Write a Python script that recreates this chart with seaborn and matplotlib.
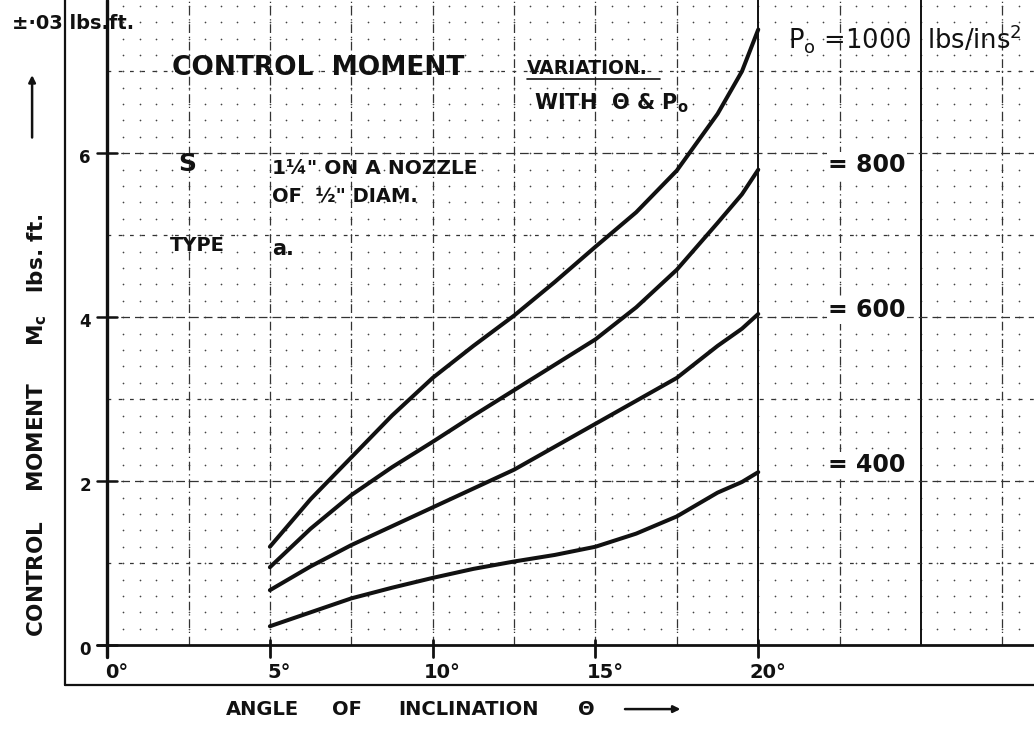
import numpy as np
import pandas as pd
import matplotlib
matplotlib.use("Agg")
import matplotlib.pyplot as plt
import seaborn as sns

# curves: angle (deg) vs control moment (lbs.ft)
angle = [5, 6.25, 7.5, 8.75, 10, 11.25, 12.5, 13.75, 15, 16.25, 17.5, 18.75, 19.5, 20]
mc_1000 = [1.20, 1.78, 2.29, 2.80, 3.26, 3.65, 4.02, 4.43, 4.86, 5.28, 5.79, 6.48, 7.00, 7.51]
mc_800 = [0.95, 1.42, 1.83, 2.17, 2.48, 2.80, 3.11, 3.42, 3.73, 4.12, 4.58, 5.15, 5.50, 5.80]
mc_600 = [0.67, 0.96, 1.22, 1.45, 1.68, 1.91, 2.14, 2.42, 2.70, 2.98, 3.26, 3.65, 3.86, 4.04]
mc_400 = [0.23, 0.40, 0.57, 0.70, 0.82, 0.93, 1.02, 1.10, 1.20, 1.36, 1.57, 1.86, 1.99, 2.11]

pressures = ["1000", "800", "600", "400"]
x_ticks = [0, 5, 10, 15, 20]
y_ticks = [0, 2, 4, 6]

df = pd.concat([
    pd.DataFrame({"angle": angle, "mc": vals, "po": p})
    for p, vals in zip(pressures, [mc_1000, mc_800, mc_600, mc_400])
])

sns.set_style("white")
plt.rcParams["font.family"] = ["DejaVu Sans"]

fig = plt.figure(figsize=(10.34, 7.32), dpi=100)
ax = fig.add_axes([0, 0, 1, 1])
XL, YL = (-3.29, 28.47), (-1.06, 7.87)
ax.set_xlim(*XL)
ax.set_ylim(*YL)

ink = "#111111"

def fx(v):
    return (v - XL[0]) / (XL[1] - XL[0])

def fy(v):
    return (v - YL[0]) / (YL[1] - YL[0])

# dotted minor lattice
gx, gy = np.meshgrid(np.arange(0.5, 28.5, 0.5), np.arange(0.2, 7.9, 0.2))
ax.scatter(gx.ravel(), gy.ravel(), s=1.5, color="#444444", linewidths=0, zorder=1)

# major grid
for gxl in np.arange(2.5, 28.5, 2.5):
    if gxl in (20, 25):
        ax.axvline(gxl, ymin=fy(0), color=ink, lw=1.4, zorder=2)
    else:
        ax.axvline(gxl, ymin=fy(0), color="#333333", lw=0.9,
                   ls=(0, (7, 3, 1, 3)), zorder=2)
for gyl in range(1, 8):
    ax.axhline(gyl, xmin=fx(0), color="#333333", lw=0.9,
               ls=(0, (7, 4)) if gyl % 2 == 0 else (0, (3, 6)), zorder=2)

# axes lines and frame
ax.axvline(0, ymin=fy(-0.15), color=ink, lw=2.4, zorder=3)
ax.axhline(0, xmin=fx(-0.3), color=ink, lw=2.0, zorder=3)
ax.axvline(-1.29, ymin=fy(-0.49), color=ink, lw=1.6, zorder=3)
ax.axhline(-0.49, xmin=fx(-1.29), color=ink, lw=1.6, zorder=3)

# tick marks and labels
for t in x_ticks:
    ax.plot([t, t], [-0.14, 0.06], color=ink, lw=2, zorder=3)
    ax.text(t + 0.3, -0.34, f"{t}°", ha="center", va="center",
            fontsize=14, fontweight="bold", color=ink)
for t in y_ticks:
    ax.plot([-0.3, 0.3], [t, t], color=ink, lw=1.8, zorder=3)
    ax.text(-0.5, t - 0.06, str(t), ha="right", va="center",
            fontsize=12, fontweight="bold", color=ink)

sns.lineplot(data=df, x="angle", y="mc", units="po", estimator=None,
             color=ink, lw=2.9, ax=ax, zorder=4, legend=False)
ax.set_xlim(*XL)
ax.set_ylim(*YL)
ax.axis("off")

# titles and annotations (positions given in reference pixels)
def px(x, y):
    return (x - 107) / 32.55, (645 - y) / 82

def label(x, y, s, size, weight="bold", **kw):
    ax.text(*px(x, y), s, ha="left", va="center", fontsize=size,
            fontweight=weight, color=ink, **kw)

label(12, 23, "±·03 lbs.ft.", 14)
label(172, 68, "CONTROL  MOMENT", 19)
label(527, 68, "VARIATION.", 13.5)
ax.plot(*zip(px(527, 79), px(660, 79)), color=ink, lw=1.2)
label(534, 103, "WITH  Θ & P$_\\mathregular{o}$", 15)
label(178, 164, "S", 18)
label(272, 168, "1¼\" ON A NOZZLE", 14.5)
label(272, 197, "OF  ½\" DIAM.", 14)
label(170, 245, "TYPE", 14)
label(272, 249, "a.", 15)

label(788, 38, "P$_\\mathregular{o}$ =1000  lbs/ins$^\\mathregular{2}$", 18.5, weight="normal")
for lab, ypix in zip(pressures[1:], [165, 310, 465]):
    label(828, ypix, f"= {lab}", 17,
          bbox=dict(facecolor="white", edgecolor="none", pad=1))

for word, xpix in zip(["ANGLE", "OF", "INCLINATION", "Θ"], [226, 332, 398, 578]):
    label(xpix, 709, word, 14)
ax.annotate("", xy=px(683, 709), xytext=px(622, 709),
            arrowprops=dict(arrowstyle="-|>", color=ink, lw=1.8))

ax.text(*px(37, 425), "CONTROL    MOMENT     M$_\\mathregular{c}$   lbs. ft.", ha="center", va="center",
        rotation=90, fontsize=15.5, fontweight="bold", color=ink)
ax.annotate("", xy=px(32, 72), xytext=px(32, 140),
            arrowprops=dict(arrowstyle="-|>", color=ink, lw=1.8))

fig.savefig("out.png", dpi=100)
